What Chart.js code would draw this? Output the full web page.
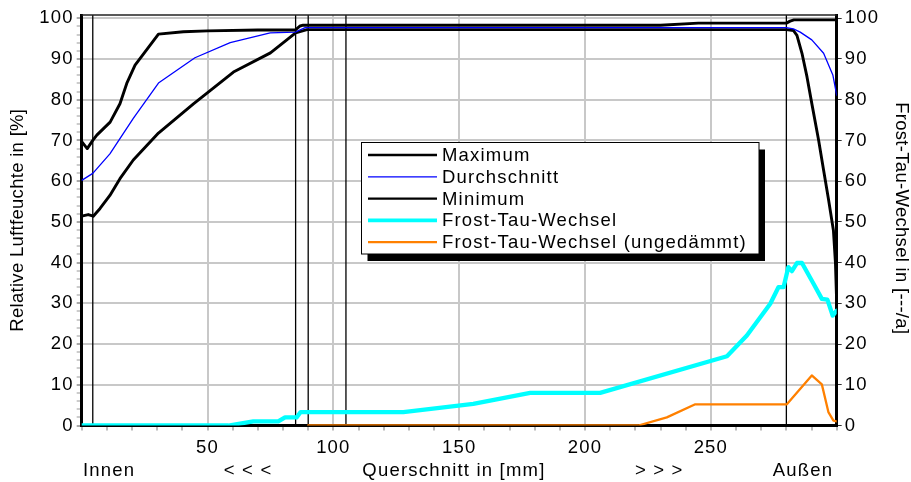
<!DOCTYPE html>
<html><head><meta charset="utf-8">
<style>html,body{margin:0;padding:0;background:#fff;}canvas{display:block;}</style>
<script src="https://cdn.jsdelivr.net/npm/chart.js@4.4.1/dist/chart.umd.min.js"></script>
</head><body>
<canvas id="c" width="911" height="482"></canvas>
<script>
// ---- data (x = Querschnitt in mm) ----
const maxPos = [0, 2.2, 4.4, 6, 11.3, 15.2, 17.9, 21.2, 30.5, 40.4, 50, 70, 84.8, 86.8, 88, 230, 245, 280, 281.5, 283, 300];
const maxVal = [69.7, 68.0, 70.0, 71.3, 74.5, 79.0, 84.0, 88.5, 96.1, 96.7, 96.9, 97.1, 97.1, 98.1, 98.3, 98.3, 98.8, 98.8, 99.3, 99.6, 99.6];

const avgPos = [0, 4.4, 11.2, 20.5, 30.5, 45, 59, 74.9, 84.8, 88.8, 280, 282.8, 285.5, 290.1, 294.8, 298.5, 300];
const avgVal = [60.2, 61.9, 66.7, 75.4, 84.1, 90.3, 94.0, 96.4, 96.6, 97.7, 97.7, 97.4, 96.6, 94.7, 91.4, 86.0, 81.1];

const minPos = [0, 2.6, 4.6, 7.3, 11.2, 15.2, 20.5, 30.5, 44.4, 60.3, 75, 85, 89.5, 280, 282.8, 284.2, 286.2, 288.2, 290.1, 292.8, 294.8, 296.8, 298.7, 299.5, 300];
const minVal = [51.4, 51.8, 51.4, 53.3, 56.5, 60.6, 65.2, 71.8, 79.0, 86.8, 91.5, 96.4, 97.2, 97.2, 97.0, 95.8, 91.4, 85.6, 79.1, 70.1, 62.7, 55.3, 47.9, 40.0, 30.0];

const frostPos = [0, 58.3, 68.2, 78.1, 80.8, 85.4, 87.0, 127.8, 155.6, 178.2, 206, 256.4, 264.3, 273.6, 276.9, 278.9, 280.8, 282.2, 284.2, 286.2, 290.8, 294.1, 296.3, 298.4, 300];
const frostVal = [0, 0, 1.0, 1.0, 2.0, 2.0, 3.3, 3.3, 5.3, 8.0, 8.0, 17.0, 22.1, 29.9, 34.0, 34.0, 38.9, 37.9, 39.9, 39.9, 34.8, 31.1, 30.9, 27.0, 28.2];

const orangePos = [90, 221.2, 232.5, 243.8, 280.2, 290.1, 294.1, 296.7, 298.7, 300];
const orangeVal = [0, 0, 2.0, 5.2, 5.2, 12.3, 10.1, 3.3, 1.2, 1.0];

const layerBounds = [4.4, 85, 90, 105, 280];
const xLabelTicks = [50, 100, 150, 200, 250];
const seriesNames = ['Maximum', 'Durchschnitt', 'Minimum', 'Frost-Tau-Wechsel', 'Frost-Tau-Wechsel (ungedämmt)'];
const bottomCaptions = ['Innen', '< < <', 'Querschnitt in [mm]', '> > >', 'Außen'];
const leftTitle = 'Relative Luftfeuchte in [%]';
const rightTitle = 'Frost-Tau-Wechsel in [---/a]';

const pts = (xs, ys) => xs.map((x, i) => ({x: x, y: ys[i]}));
const FONT = '"Liberation Sans", Arial, sans-serif';
const FS = 18.5;
Chart.defaults.font.family = FONT;
Chart.defaults.font.size = FS;
Chart.defaults.color = '#000';

const isMult = (v, m) => Math.abs(v / m - Math.round(v / m)) < 1e-6;

const spacingPlugin = {
  id: 'spacing',
  beforeLayout(c) { c.ctx.letterSpacing = '1.2px'; },
  beforeDraw(c) { c.ctx.letterSpacing = '1.2px'; }
};

const framePlugin = {
  id: 'frame',
  beforeDatasetsDraw(chart) {
    const {ctx, chartArea: a, scales} = chart;
    ctx.save();
    ctx.strokeStyle = '#000';
    ctx.lineWidth = 1.3;
    layerBounds.forEach(b => {
      const px = scales.x.getPixelForValue(b);
      ctx.beginPath(); ctx.moveTo(px, a.top); ctx.lineTo(px, a.bottom); ctx.stroke();
    });
    ctx.strokeStyle = '#222';
    ctx.lineWidth = 1.6;
    ctx.beginPath(); ctx.moveTo(a.left, a.top); ctx.lineTo(a.right, a.top); ctx.stroke();
    ctx.restore();
  },
  afterDatasetsDraw(chart) {
    const {ctx, scales, chartArea: a} = chart;
    ctx.save();
    ctx.letterSpacing = '1.2px';
    ctx.font = FS + 'px ' + FONT;
    ctx.fillStyle = '#000';
    ctx.textAlign = 'center';
    ctx.textBaseline = 'alphabetic';
    const capPos = [10.9, 66.1, 147.9, 229.5, 286.6];
    bottomCaptions.forEach((t, i) => ctx.fillText(t, scales.x.getPixelForValue(capPos[i]), 475.5));

    // axis titles
    const cy = (a.top + a.bottom) / 2;
    ctx.letterSpacing = '0.3px';
    ctx.textBaseline = 'middle';
    ctx.save(); ctx.translate(18, cy); ctx.rotate(-Math.PI / 2); ctx.fillText(leftTitle, 0, 0); ctx.restore();
    ctx.save(); ctx.translate(901, cy - 2); ctx.rotate(Math.PI / 2); ctx.fillText(rightTitle, 0, 0); ctx.restore();

    // legend box
    ctx.letterSpacing = '1.2px';
    const L = 361.5, T = 142.5, R = 759, B = 254, sx = 6, sy = 7;
    ctx.fillStyle = '#000';
    ctx.fillRect(L + sx, T + sy, R - L, B - T);
    ctx.fillStyle = '#fff';
    ctx.fillRect(L, T, R - L, B - T);
    ctx.strokeStyle = '#000'; ctx.lineWidth = 1;
    ctx.strokeRect(L, T, R - L, B - T);
    ctx.textAlign = 'left';
    ctx.textBaseline = 'middle';
    chart.data.datasets.forEach((ds, i) => {
      const y = 155 + i * 21.8;
      ctx.strokeStyle = ds.borderColor;
      ctx.lineWidth = ds.legendWidth;
      ctx.beginPath(); ctx.moveTo(368, y); ctx.lineTo(437, y); ctx.stroke();
      ctx.fillStyle = '#000';
      ctx.fillText(ds.label, 442, y + 1);
    });
    ctx.restore();
  }
};

new Chart(document.getElementById('c'), {
  type: 'line',
  data: {
    datasets: [
      {label: seriesNames[0], data: pts(maxPos, maxVal), borderColor: '#000', borderWidth: 2.9, legendWidth: 2.4, yAxisID: 'y'},
      {label: seriesNames[1], data: pts(avgPos, avgVal), borderColor: '#0000ff', borderWidth: 1.3, legendWidth: 1.3, yAxisID: 'y'},
      {label: seriesNames[2], data: pts(minPos, minVal), borderColor: '#000', borderWidth: 2.9, legendWidth: 2.4, yAxisID: 'y'},
      {label: seriesNames[3], data: pts(frostPos, frostVal), borderColor: '#00ffff', borderWidth: 4.3, legendWidth: 3.6, yAxisID: 'y2'},
      {label: seriesNames[4], data: pts(orangePos, orangeVal), borderColor: '#ff8000', borderWidth: 2.3, legendWidth: 2.2, yAxisID: 'y2'}
    ]
  },
  options: {
    responsive: false,
    animation: false,
    devicePixelRatio: 1,
    layout: {padding: {top: 15, left: 0, right: 0, bottom: 0}},
    elements: {point: {radius: 0}, line: {tension: 0, borderJoinStyle: 'round', borderCapStyle: 'round'}},
    plugins: {legend: {display: false}, tooltip: {enabled: false}},
    scales: {
      x: {
        type: 'linear', min: 0, max: 300, position: 'bottom',
        ticks: {stepSize: 10, autoSkip: false, maxRotation: 0, padding: 6,
          callback: v => xLabelTicks.some(t => Math.abs(v - t) < 1e-6) ? String(Math.round(v)) : ''},
        grid: {
          color: c => (c.tick && xLabelTicks.some(t => Math.abs(c.tick.value - t) < 1e-6)) ? '#c8c8c8' : 'rgba(0,0,0,0)',
          lineWidth: 2, tickColor: '#777', tickLength: 5, tickWidth: 1
        },
        border: {color: '#000', width: 3},
        afterFit: s => { s.height = 56.5; }
      },
      y: {
        type: 'linear', min: 0, max: 100.8, position: 'left',
        ticks: {stepSize: 2, includeBounds: false, autoSkip: false, padding: 3,
          callback: v => isMult(v, 10) ? String(Math.round(v)) : ''},
        grid: {
          color: c => (c.tick && isMult(c.tick.value, 10) && c.tick.value > 0) ? '#c8c8c8' : 'rgba(0,0,0,0)',
          lineWidth: 2,
          tickColor: c => (c.tick && isMult(c.tick.value, 10)) ? '#555' : '#999',
          tickLength: 5, tickWidth: 1
        },
        border: {color: '#000', width: 3},
        afterFit: s => { s.width = 81.7; }
      },
      y2: {
        type: 'linear', min: 0, max: 100.8, position: 'right',
        ticks: {stepSize: 10, includeBounds: false, autoSkip: false, padding: 3},
        grid: {drawOnChartArea: false, tickColor: '#333', tickLength: 5, tickWidth: 1},
        border: {color: '#000', width: 3},
        afterFit: s => { s.width = 74.3; }
      }
    }
  },
  plugins: [spacingPlugin, framePlugin]
});
</script>
</body></html>
